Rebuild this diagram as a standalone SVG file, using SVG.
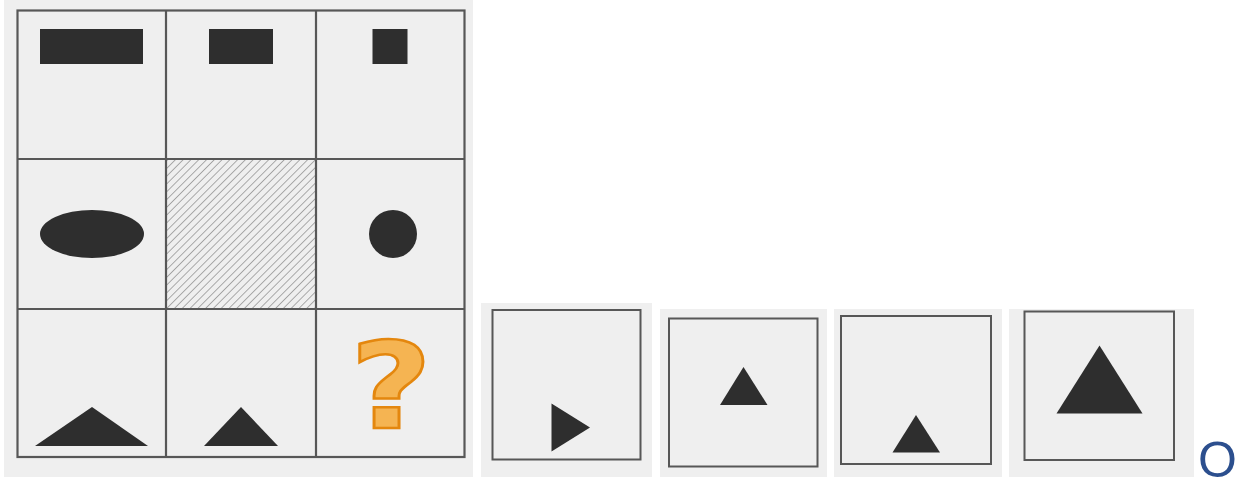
<svg xmlns="http://www.w3.org/2000/svg" width="1241" height="477" viewBox="0 0 1241 477">
  <style>
    .panel { fill: #efefef; }
    .grid { stroke: #575757; stroke-width: 2.2; fill: none; }
    .box { stroke: #575757; stroke-width: 2; fill: #efefef; }
    .shape { fill: #2e2e2e; }
    .qmark { font-family: "DejaVu Sans", sans-serif; font-weight: bold; font-size: 120px; fill: #f5b452; stroke: #e4870e; stroke-width: 2.5; text-anchor: middle; }
    .opt-o { font-family: "Liberation Sans", Arial, sans-serif; font-size: 50px; fill: #2c4f8e; }
  </style>
  <defs>
    <pattern id="hatch" patternUnits="userSpaceOnUse" width="5.5" height="5.5" patternTransform="rotate(45)">
      <line x1="0" y1="0" x2="0" y2="5.5" stroke="#7a7a7a" stroke-width="1.2"/>
    </pattern>
  </defs>
  <rect width="1241" height="477" fill="#ffffff"/>

  <g id="matrix">
    <rect class="panel" x="4" y="0" width="469" height="477"/>
    <rect x="166" y="159" width="150" height="150" fill="url(#hatch)"/>
    <g id="grid-lines" class="grid">
      <rect x="17.5" y="10.5" width="447" height="446.5"/>
      <line x1="166" y1="10.5" x2="166" y2="457"/>
      <line x1="316" y1="10.5" x2="316" y2="457"/>
      <line x1="17.5" y1="159" x2="464.5" y2="159"/>
      <line x1="17.5" y1="309" x2="464.5" y2="309"/>
    </g>
    <g id="cell-r1c1"><rect class="shape" x="40" y="29" width="103" height="35"/></g>
    <g id="cell-r1c2"><rect class="shape" x="209" y="29" width="64" height="35"/></g>
    <g id="cell-r1c3"><rect class="shape" x="372.5" y="29" width="35" height="35"/></g>
    <g id="cell-r2c1"><ellipse class="shape" cx="92" cy="234" rx="52" ry="24"/></g>
    <g id="cell-r2c3"><circle class="shape" cx="393" cy="234" r="24"/></g>
    <g id="cell-r3c1"><polygon class="shape" points="35,446 92,407 148,446"/></g>
    <g id="cell-r3c2"><polygon class="shape" points="204,446 241,407 278,446"/></g>
    <g id="cell-r3c3"><text class="qmark" transform="translate(391,428) scale(1.18,1)" x="0" y="0">?</text></g>
  </g>

  <g id="option-1">
    <rect class="panel" x="481" y="303" width="171" height="174"/>
    <rect class="box" x="492.5" y="310" width="148" height="149.5"/>
    <polygon class="shape" points="551.5,403.5 551.5,451.5 590,427.5"/>
  </g>
  <g id="option-2">
    <rect class="panel" x="660" y="309" width="167" height="168"/>
    <rect class="box" x="669" y="318.5" width="148.5" height="148"/>
    <polygon class="shape" points="743.5,367 767.5,405 720,405"/>
  </g>
  <g id="option-3">
    <rect class="panel" x="834" y="309" width="168" height="168"/>
    <rect class="box" x="841" y="316" width="150" height="148"/>
    <polygon class="shape" points="916,415 940,452.5 892.5,452.5"/>
  </g>
  <g id="option-4">
    <rect class="panel" x="1009" y="309" width="185" height="168"/>
    <rect class="box" x="1024.5" y="311.5" width="149.5" height="148.5"/>
    <polygon class="shape" points="1099.5,345.5 1142.5,413.5 1056.5,413.5"/>
  </g>
  <g id="option-mark">
    <text class="opt-o" x="1198" y="477">O</text>
  </g>
</svg>
